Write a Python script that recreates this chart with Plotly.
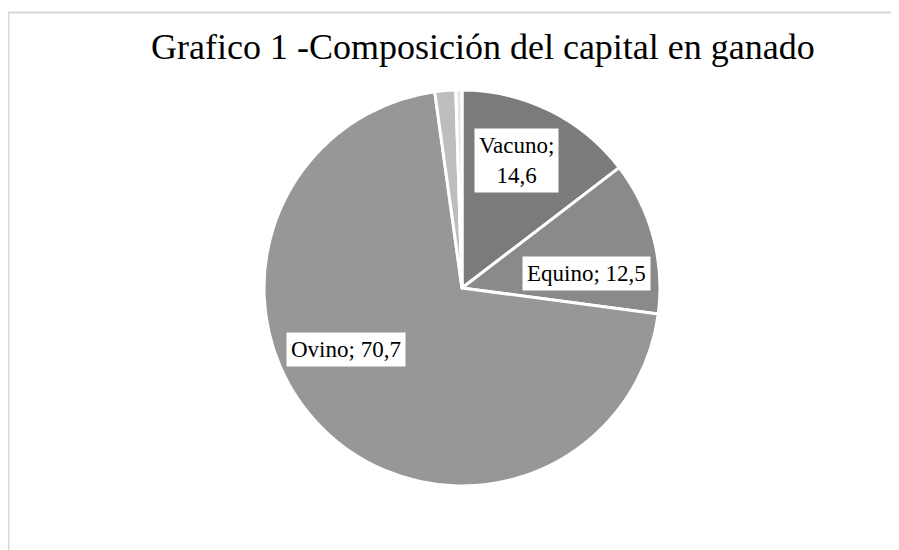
import plotly.graph_objects as go

categories = ["Vacuno", "Equino", "Ovino", "Otros 1", "Otros 2"]
values = [14.6, 12.5, 70.7, 1.7, 0.5]
value_text = ["14,6", "12,5", "70,7", "1,7", "0,5"]
colors = ["#7b7b7b", "#8a8a8a", "#979797", "#bdbdbd", "#e6e6e6"]

W, H = 899, 550
OFF = 8  # page body margin offset
cx, cy, R = 462 - OFF, 288 - OFF, 198

fig = go.Figure(go.Pie(
    labels=categories,
    values=values,
    sort=False,
    direction="clockwise",
    rotation=0,
    marker=dict(colors=colors, line=dict(color="white", width=3)),
    textinfo="none",
    hoverinfo="label+value",
    showlegend=False,
    domain=dict(x=[(cx - R) / W, (cx + R) / W], y=[1 - (cy + R) / H, 1 - (cy - R) / H]),
))

# label placement (pixel centres of label boxes, screen coords)
label_pos = {"Vacuno": (516, 160), "Equino": (586, 273), "Ovino": (346, 349)}
label_text = {"Vacuno": "Vacuno;<br>14,6"}
for cat, vt in zip(categories, value_text):
    if cat in label_pos:
        px, py = label_pos[cat]
        fig.add_annotation(
            x=(px - OFF) / W, y=1 - (py - OFF) / H, xref="paper", yref="paper",
            text=label_text.get(cat, f"{cat}; {vt}"),
            showarrow=False, bgcolor="white", borderpad=4,
            font=dict(family="Liberation Serif, Times New Roman, serif", size=23, color="black"),
            xanchor="center", yanchor="middle",
        )

fig.add_annotation(
    x=(483 - OFF) / W, y=1 - (47 - OFF) / H, xref="paper", yref="paper",
    text="Grafico 1 -Composición del capital en ganado",
    showarrow=False,
    font=dict(family="Liberation Serif, Times New Roman, serif", size=36, color="black"),
    xanchor="center", yanchor="middle",
)

# chart area border (top and left edges visible)
fig.add_shape(type="line", xref="paper", yref="paper",
              x0=0, x1=1.01, y0=1 - (12.5 - OFF) / H, y1=1 - (12.5 - OFF) / H,
              line=dict(color="#d9d9d9", width=2))
fig.add_shape(type="line", xref="paper", yref="paper",
              x0=0.5 / W, x1=0.5 / W, y0=-0.01, y1=1 - (12.5 - OFF) / H,
              line=dict(color="#d9d9d9", width=2))

fig.update_layout(
    width=W, height=H,
    margin=dict(l=0, r=0, t=0, b=0),
    paper_bgcolor="white", plot_bgcolor="white",
)

fig.write_html("out.html")
